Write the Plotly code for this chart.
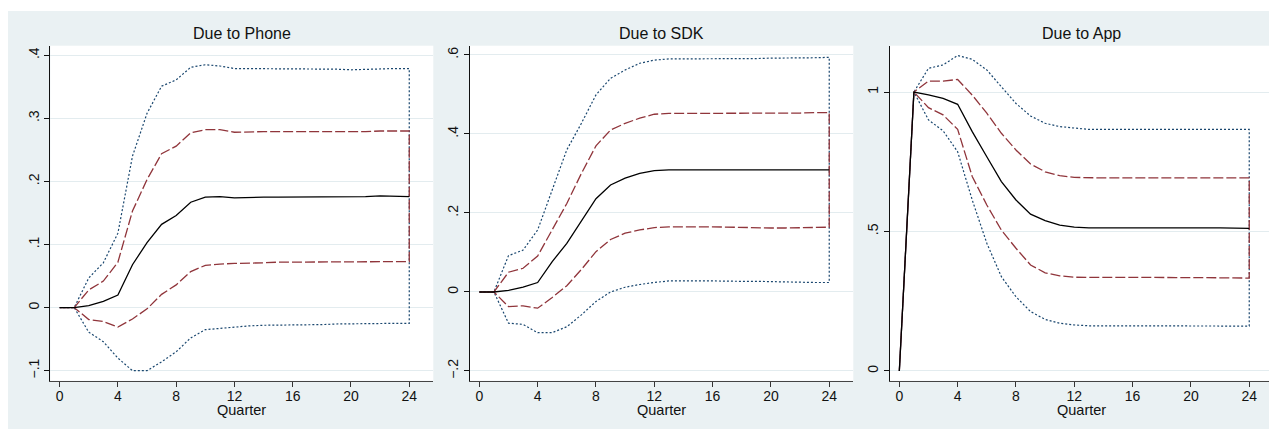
import plotly.graph_objects as go

# ---------------- data ----------------
quarters = list(range(25))
x_ticks = [0, 4, 8, 12, 16, 20, 24]

panel_titles = ["Due to Phone", "Due to SDK", "Due to App"]

phone_irf = [0, 0, 0.003, 0.010, 0.020, 0.068, 0.103, 0.132, 0.146, 0.167, 0.175, 0.176, 0.174,
             0.175, 0.175, 0.175, 0.175, 0.176, 0.176, 0.175, 0.175, 0.176, 0.177, 0.177, 0.176]
phone_in_up = [0, 0, 0.028, 0.042, 0.072, 0.153, 0.203, 0.244, 0.256, 0.277, 0.282, 0.282, 0.278,
               0.279, 0.279, 0.279, 0.279, 0.279, 0.279, 0.279, 0.278, 0.279, 0.280, 0.280, 0.280]
phone_in_lo = [0, 0, -0.019, -0.022, -0.031, -0.018, -0.002, 0.021, 0.036, 0.057, 0.067, 0.069, 0.070,
               0.071, 0.071, 0.072, 0.072, 0.072, 0.072, 0.072, 0.072, 0.072, 0.073, 0.073, 0.073]
phone_out_up = [0, 0, 0.047, 0.071, 0.118, 0.240, 0.308, 0.351, 0.361, 0.381, 0.385, 0.383, 0.379,
                0.379, 0.379, 0.378, 0.378, 0.378, 0.378, 0.378, 0.377, 0.378, 0.379, 0.379, 0.379]
phone_out_lo = [0, 0, -0.039, -0.054, -0.080, -0.100, -0.100, -0.086, -0.070, -0.048, -0.035, -0.032, -0.031,
                -0.029, -0.028, -0.027, -0.027, -0.027, -0.027, -0.026, -0.026, -0.026, -0.025, -0.025, -0.025]

sdk_irf = [0, 0, 0.004, 0.012, 0.024, 0.077, 0.123, 0.178, 0.236, 0.271, 0.288, 0.300, 0.307,
           0.309, 0.309, 0.309, 0.309, 0.309, 0.309, 0.308, 0.308, 0.308, 0.308, 0.309, 0.309]
sdk_in_up = [0, 0, 0.050, 0.060, 0.091, 0.157, 0.224, 0.300, 0.370, 0.410, 0.427, 0.440, 0.450,
             0.452, 0.452, 0.452, 0.452, 0.452, 0.452, 0.452, 0.452, 0.453, 0.453, 0.454, 0.454]
sdk_in_lo = [0, 0, -0.037, -0.035, -0.041, -0.014, 0.016, 0.057, 0.102, 0.133, 0.149, 0.157, 0.163,
             0.165, 0.165, 0.165, 0.165, 0.164, 0.164, 0.163, 0.162, 0.162, 0.163, 0.163, 0.164]
sdk_out_up = [0, 0, 0.092, 0.106, 0.157, 0.258, 0.360, 0.427, 0.499, 0.541, 0.562, 0.579, 0.587,
              0.590, 0.590, 0.590, 0.591, 0.591, 0.591, 0.591, 0.592, 0.592, 0.593, 0.593, 0.594]
sdk_out_lo = [0, 0, -0.079, -0.082, -0.103, -0.103, -0.088, -0.058, -0.024, 0.000, 0.012, 0.019, 0.024,
              0.028, 0.028, 0.028, 0.028, 0.028, 0.027, 0.027, 0.026, 0.025, 0.025, 0.024, 0.024]

app_irf = [0, 1.0, 0.990, 0.977, 0.956, 0.858, 0.768, 0.679, 0.613, 0.562, 0.539, 0.523, 0.516,
           0.513, 0.513, 0.513, 0.513, 0.513, 0.513, 0.514, 0.515, 0.514, 0.513, 0.512, 0.511]
app_in_up = [0, 1.0, 1.039, 1.039, 1.045, 0.989, 0.924, 0.852, 0.792, 0.742, 0.714, 0.700, 0.694,
             0.692, 0.692, 0.692, 0.692, 0.692, 0.692, 0.692, 0.693, 0.693, 0.692, 0.692, 0.692]
app_in_lo = [0, 1.0, 0.944, 0.918, 0.866, 0.697, 0.595, 0.505, 0.440, 0.380, 0.352, 0.341, 0.336,
             0.335, 0.335, 0.335, 0.335, 0.335, 0.335, 0.335, 0.335, 0.335, 0.334, 0.334, 0.333]
app_out_up = [0, 1.0, 1.085, 1.097, 1.131, 1.117, 1.079, 1.017, 0.959, 0.914, 0.888, 0.876, 0.870,
              0.866, 0.866, 0.866, 0.866, 0.866, 0.866, 0.866, 0.867, 0.867, 0.866, 0.866, 0.866]
app_out_lo = [0, 1.0, 0.900, 0.861, 0.786, 0.613, 0.458, 0.338, 0.266, 0.213, 0.185, 0.171, 0.165,
              0.162, 0.162, 0.162, 0.162, 0.162, 0.162, 0.162, 0.162, 0.162, 0.162, 0.161, 0.161]

phone_yticks = [-0.1, 0, 0.1, 0.2, 0.3, 0.4]
phone_ylabels = ["\u2212.1", "0", ".1", ".2", ".3", ".4"]
sdk_yticks = [-0.2, 0, 0.2, 0.4, 0.6]
sdk_ylabels = ["\u2212.2", "0", ".2", ".4", ".6"]
app_yticks = [0, 0.5, 1]
app_ylabels = ["0", ".5", "1"]

panels = [
    (phone_irf, phone_in_up, phone_in_lo, phone_out_up, phone_out_lo, phone_yticks, phone_ylabels, [-0.1159, 0.4152]),
    (sdk_irf, sdk_in_up, sdk_in_lo, sdk_out_up, sdk_out_lo, sdk_yticks, sdk_ylabels, [-0.2246, 0.6235]),
    (app_irf, app_in_up, app_in_lo, app_out_up, app_out_lo, app_yticks, app_ylabels, [-0.0348, 1.166]),
]

# ---------------- styling ----------------
# the page body adds an 8px offset, so the figure is laid out in page px minus 8
OFF = 8
W, H = 1277 - OFF, 429 - OFF
BG = "#EAF1F3"
GRID = "#E3ECEF"
BLACK = "#000000"
MAROON = "#90353B"
NAVY = "#1A476F"
FONT = "Liberation Sans, Arial, Helvetica, sans-serif"

x_left_px = [50.3 - OFF, 470.0 - OFF, 890.0 - OFF]
x_right_px = [433.3 - OFF, 853.3 - OFF, 1273.3 - OFF]
y_top_px, y_bot_px = 45.7 - OFF, 380.7 - OFF

fig = go.Figure()

for i, (irf, in_up, in_lo, out_up, out_lo, yt, yl, yr) in enumerate(panels):
    sfx = "" if i == 0 else str(i + 1)
    xa, ya = "x" + sfx, "y" + sfx
    loop_x = quarters + quarters[::-1]
    fig.add_trace(go.Scatter(x=loop_x, y=out_up + out_lo[::-1], mode="lines",
                             line=dict(color=NAVY, width=1.2, dash="2px,2px"),
                             xaxis=xa, yaxis=ya, showlegend=False, hoverinfo="skip"))
    fig.add_trace(go.Scatter(x=loop_x, y=in_up + in_lo[::-1], mode="lines",
                             line=dict(color=MAROON, width=1.3, dash="10px,3px"),
                             xaxis=xa, yaxis=ya, showlegend=False, hoverinfo="skip"))
    fig.add_trace(go.Scatter(x=quarters, y=irf, mode="lines",
                             line=dict(color=BLACK, width=1.3),
                             xaxis=xa, yaxis=ya, showlegend=False, hoverinfo="skip"))

    dom_x = [x_left_px[i] / W, x_right_px[i] / W]
    dom_y = [1 - y_bot_px / H, 1 - y_top_px / H]
    fig.layout["xaxis" + sfx] = dict(
        domain=dom_x, anchor=ya, range=[-0.64, 25.65],
        tickmode="array", tickvals=x_ticks, ticktext=[str(v) for v in x_ticks],
        ticks="outside", ticklen=5, tickwidth=1, tickcolor="#333333",
        showline=True, linecolor="#444444", linewidth=1.2,
        showgrid=False, zeroline=False, ticklabelstandoff=-3,
        tickfont=dict(family=FONT, size=14, color="#111111"),
        fixedrange=True,
    )
    fig.layout["yaxis" + sfx] = dict(
        domain=dom_y, anchor=xa, range=yr,
        tickmode="array", tickvals=yt, ticktext=yl, tickangle=-90,
        ticks="outside", ticklen=5, tickwidth=1, tickcolor="#111111",
        showline=True, linecolor="#111111", linewidth=1.2,
        showgrid=True, gridcolor=GRID, gridwidth=1, zeroline=False,
        tickfont=dict(family=FONT, size=14, color="#111111"),
        fixedrange=True,
    )
    cx = (x_left_px[i] + x_right_px[i]) / 2 / W
    fig.add_annotation(text=panel_titles[i], x=cx, y=1 - (33.3 - OFF) / H, xref="paper", yref="paper",
                       xanchor="center", yanchor="middle", showarrow=False,
                       font=dict(family=FONT, size=16, color="#111111"))
    fig.add_annotation(text="Quarter", x=cx, y=1 - (410 - OFF) / H, xref="paper", yref="paper",
                       xanchor="center", yanchor="middle", showarrow=False,
                       font=dict(family=FONT, size=14.5, color="#111111"))

# thin white strip on top (the light background starts 3px into the figure)
fig.add_shape(type="rect", xref="paper", yref="paper", x0=0, x1=1, y0=1 - (11 - OFF) / H, y1=1,
              fillcolor="white", line=dict(width=0), layer="below")

fig.update_layout(
    width=W, height=H,
    margin=dict(l=0, r=0, t=0, b=0),
    paper_bgcolor=BG, plot_bgcolor="white",
    showlegend=False,
    font=dict(family=FONT, size=14, color="#111111"),
)

fig.write_html("out.html", config={"displayModeBar": False})
